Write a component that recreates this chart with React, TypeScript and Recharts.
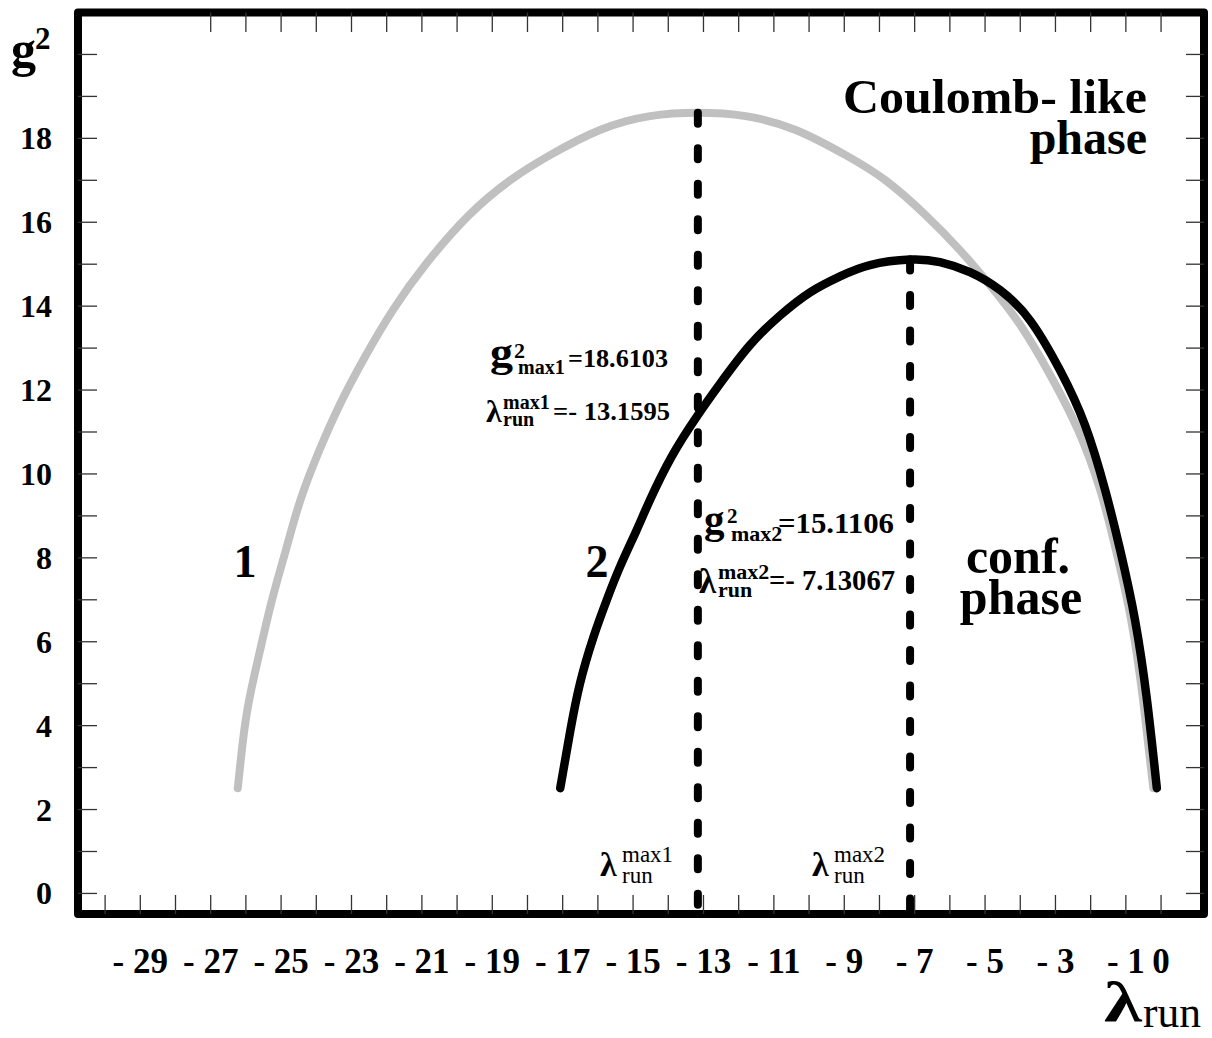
import { LineChart, Line, XAxis, YAxis, ReferenceArea } from "recharts";

// curve 1 (grey) and curve 2 (black): g^2 versus lambda_run
const curve1Lam = [-26.23, -26.09, -25.91, -25.61, -25.26, -24.86, -24.45, -23.91, -23.34, -22.67, -21.82, -20.84, -19.66, -18.49, -17.36, -15.94, -14.52, -13.16, -11.8, -10.38, -8.96, -7.83, -6.69, -5.71, -4.86, -4.0, -3.15, -2.36, -1.73, -1.28, -0.85, -0.51, -0.22];
const curve1G = [2.51, 3.6, 4.6, 5.75, 6.99, 8.2, 9.38, 10.57, 11.64, 12.71, 13.91, 15.05, 16.17, 17.0, 17.6, 18.2, 18.53, 18.61, 18.53, 18.2, 17.6, 17.0, 16.17, 15.33, 14.5, 13.55, 12.36, 11.05, 9.62, 8.18, 6.52, 4.61, 2.51];

const curve2Lam = [-17.07, -16.79, -16.51, -16.13, -15.75, -15.37, -14.9, -14.52, -13.9, -13.18, -12.53, -11.68, -10.82, -9.97, -9.12, -8.27, -7.13, -6.28, -5.43, -4.57, -3.72, -2.87, -2.16, -1.59, -1.16, -0.74, -0.4, -0.12];
const curve2G = [2.51, 3.85, 5.0, 6.1, 6.99, 7.79, 8.66, 9.38, 10.42, 11.38, 12.15, 13.07, 13.78, 14.33, 14.71, 14.98, 15.11, 15.05, 14.81, 14.38, 13.66, 12.47, 11.16, 9.62, 8.18, 6.52, 4.61, 2.51];

// the two maxima
const max1 = { lam: -13.1595, g: 18.6103 };
const max2 = { lam: -7.13067, g: 15.1106 };

const xDomain = [-30.77, 1.22];
const yDomain = [-0.49, 21.0];
const xTicksBottom = [-30, -29, -28, -27, -26, -25, -24, -23, -22, -21, -20, -19, -18, -17, -16, -15, -14, -13, -12, -11, -10, -9, -8, -7, -6, -5, -4, -3, -2, -1, 0];
const xTicksTop = [-27, -26, -25, -24, -23, -22, -21, -20, -19, -18, -17, -16, -15, -14, -13, -12, -11, -10, -9, -8, -7, -6, -5, -4, -3, -2, -1, 0];
const xLabels = [-29, -27, -25, -23, -21, -19, -17, -15, -13, -11, -9, -7, -5, -3, -1, 0];
const yTicks = [0, 1, 2, 3, 4, 5, 6, 7, 8, 9, 10, 11, 12, 13, 14, 15, 16, 17, 18, 19, 20];
const yLabels = [0, 2, 4, 6, 8, 10, 12, 14, 16, 18];

const zip = (lam: number[], g: number[]) => lam.map((l, i) => ({ lam: l, g: g[i] }));
const curve1 = zip(curve1Lam, curve1G);
const curve2 = zip(curve2Lam, curve2G);
const dash1 = [{ lam: max1.lam, g: max1.g }, { lam: max1.lam, g: -0.4 }];
const dash2 = [{ lam: max2.lam, g: max2.g }, { lam: max2.lam, g: -0.4 }];

const FONT = "'Liberation Serif', 'Times New Roman', serif";
const TICK = "#333";

const fmtX = (v: number) => (v < 0 ? `- ${-v}` : `${v}`);

function BottomTick(props: any) {
  const { x, y, payload } = props;
  const v = payload.value;
  return (
    <g>
      <line x1={x} y1={y} x2={x} y2={y - 19} stroke={TICK} strokeWidth={1.3} />
      {xLabels.includes(v) && (
        <text x={x} y={y + 59} textAnchor="middle" fontFamily={FONT} fontWeight="bold" fontSize={35} fill="#000">
          {fmtX(v)}
        </text>
      )}
    </g>
  );
}

function TopTick(props: any) {
  const { x, y } = props;
  return <line x1={x} y1={y} x2={x} y2={y + 19.5} stroke={TICK} strokeWidth={1.3} />;
}

function LeftTick(props: any) {
  const { x, y, payload } = props;
  const v = payload.value;
  return (
    <g>
      <line x1={x} y1={y} x2={x + 19} y2={y} stroke={TICK} strokeWidth={1.3} />
      {yLabels.includes(v) && (
        <text x={x - 26} y={y + 11} textAnchor="end" fontFamily={FONT} fontWeight="bold" fontSize={32} fill="#000">
          {v}
        </text>
      )}
    </g>
  );
}

function RightTick(props: any) {
  const { x, y } = props;
  return <line x1={x} y1={y} x2={x - 18} y2={y} stroke={TICK} strokeWidth={1.3} />;
}

function Annotations() {
  const b = { fontFamily: FONT, fontWeight: "bold" as const, fill: "#000" };
  const n = { fontFamily: FONT, fontWeight: "normal" as const, fill: "#000" };
  const fit = "spacingAndGlyphs";
  return (
    <svg width={1212} height={1038} style={{ position: "absolute", left: 0, top: 0, pointerEvents: "none" }}>
      {/* axis titles */}
      <text x={11} y={66} fontSize={50} {...b}>g</text>
      <text x={35} y={49} fontSize={31} {...b}>2</text>
      <text x={1104} y={1021} fontSize={58} textLength={38} lengthAdjust={fit} {...b}>λ</text>
      <text x={1143} y={1027} fontSize={44} textLength={58} lengthAdjust={fit} {...n}>run</text>

      {/* phase labels */}
      <text x={843} y={113} fontSize={48} textLength={304} lengthAdjust={fit} {...b}>Coulomb- like</text>
      <text x={1147} y={154} textAnchor="end" fontSize={48} {...b}>phase</text>
      <text x={1018} y={573} textAnchor="middle" fontSize={50} {...b}>conf.</text>
      <text x={1021} y={614} textAnchor="middle" fontSize={50} {...b}>phase</text>

      {/* curve numbers */}
      <text x={245} y={577} textAnchor="middle" fontSize={46} {...b}>1</text>
      <text x={597} y={577} textAnchor="middle" fontSize={46} {...b}>2</text>

      {/* maximum 1 */}
      <text x={490} y={366} fontSize={40} textLength={23} lengthAdjust={fit} {...b}>g</text>
      <text x={514} y={358} fontSize={22} {...b}>2</text>
      <text x={518} y={374} fontSize={20} {...b}>max1</text>
      <text x={568} y={367} fontSize={26} textLength={100} lengthAdjust={fit} {...b}>=18.6103</text>
      <text x={486} y={422} fontSize={32} {...b}>λ</text>
      <text x={503} y={409} fontSize={20} {...b}>max1</text>
      <text x={503} y={426} fontSize={20} {...b}>run</text>
      <text x={553} y={420} fontSize={26} textLength={117} lengthAdjust={fit} {...b}>=- 13.1595</text>

      {/* maximum 2 */}
      <text x={704} y={533} fontSize={41} {...b}>g</text>
      <text x={727} y={523} fontSize={21} {...b}>2</text>
      <text x={731} y={541} fontSize={22} {...b}>max2</text>
      <text x={778} y={533} fontSize={29} textLength={116} lengthAdjust={fit} {...b}>=15.1106</text>
      <text x={699} y={593} fontSize={35} {...b}>λ</text>
      <text x={718} y={579} fontSize={22} {...b}>max2</text>
      <text x={718} y={597} fontSize={22} {...b}>run</text>
      <text x={769} y={590} fontSize={29} textLength={126} lengthAdjust={fit} {...b}>=- 7.13067</text>

      {/* markers on the lambda axis */}
      <text x={600} y={876} fontSize={34} {...b}>λ</text>
      <text x={622} y={862} fontSize={23} {...n}>max1</text>
      <text x={622} y={883} fontSize={23} {...n}>run</text>
      <text x={812} y={876} fontSize={34} {...b}>λ</text>
      <text x={834} y={862} fontSize={23} {...n}>max2</text>
      <text x={834} y={883} fontSize={23} {...n}>run</text>
    </svg>
  );
}

export default function App() {
  return (
    <div style={{ position: "absolute", left: 0, top: 0, width: 1212, height: 1038, background: "#fff" }}>
      <LineChart width={1212} height={1038} margin={{ top: 0, right: 0, bottom: 0, left: 0 }}>
        <XAxis
          xAxisId="b"
          orientation="bottom"
          type="number"
          dataKey="lam"
          domain={xDomain}
          allowDataOverflow
          ticks={xTicksBottom}
          interval={0}
          height={124}
          axisLine={false}
          tickLine={false}
          tickSize={0}
          tickMargin={0}
          tick={<BottomTick />}
        />
        <XAxis
          xAxisId="t"
          orientation="top"
          type="number"
          dataKey="lam"
          domain={xDomain}
          allowDataOverflow
          ticks={xTicksTop}
          interval={0}
          height={12.5}
          axisLine={false}
          tickLine={false}
          tickSize={0}
          tickMargin={0}
          tick={<TopTick />}
        />
        <YAxis
          yAxisId="l"
          orientation="left"
          type="number"
          domain={yDomain}
          allowDataOverflow
          ticks={yTicks}
          interval={0}
          width={78}
          axisLine={false}
          tickLine={false}
          tickSize={0}
          tickMargin={0}
          tick={<LeftTick />}
        />
        <YAxis
          yAxisId="r"
          orientation="right"
          type="number"
          domain={yDomain}
          allowDataOverflow
          ticks={yTicks}
          interval={0}
          width={8}
          axisLine={false}
          tickLine={false}
          tickSize={0}
          tickMargin={0}
          tick={<RightTick />}
        />
        <Line
          data={curve1}
          xAxisId="b"
          yAxisId="l"
          dataKey="g"
          type="natural"
          stroke="#c0c0c0"
          strokeWidth={8}
          strokeLinecap="round"
          strokeLinejoin="round"
          dot={false}
          activeDot={false}
          isAnimationActive={false}
        />
        <Line
          data={curve2}
          xAxisId="b"
          yAxisId="l"
          dataKey="g"
          type="natural"
          stroke="#000"
          strokeWidth={8.5}
          strokeLinecap="round"
          strokeLinejoin="round"
          dot={false}
          activeDot={false}
          isAnimationActive={false}
        />
        <Line
          data={dash1}
          xAxisId="b"
          yAxisId="l"
          dataKey="g"
          type="linear"
          stroke="#000"
          strokeWidth={8}
          strokeDasharray="11 24.5"
          strokeLinecap="round"
          dot={false}
          activeDot={false}
          isAnimationActive={false}
        />
        <Line
          data={dash2}
          xAxisId="b"
          yAxisId="l"
          dataKey="g"
          type="linear"
          stroke="#000"
          strokeWidth={8}
          strokeDasharray="11 24.5"
          strokeLinecap="round"
          dot={false}
          activeDot={false}
          isAnimationActive={false}
        />
        <ReferenceArea
          xAxisId="b"
          yAxisId="l"
          x1={xDomain[0]}
          x2={xDomain[1]}
          y1={yDomain[0]}
          y2={yDomain[1]}
          fill="none"
          fillOpacity={0}
          stroke="#000"
          strokeWidth={8}
          strokeLinejoin="round"
          ifOverflow="visible"
        />
      </LineChart>
      <Annotations />
    </div>
  );
}
